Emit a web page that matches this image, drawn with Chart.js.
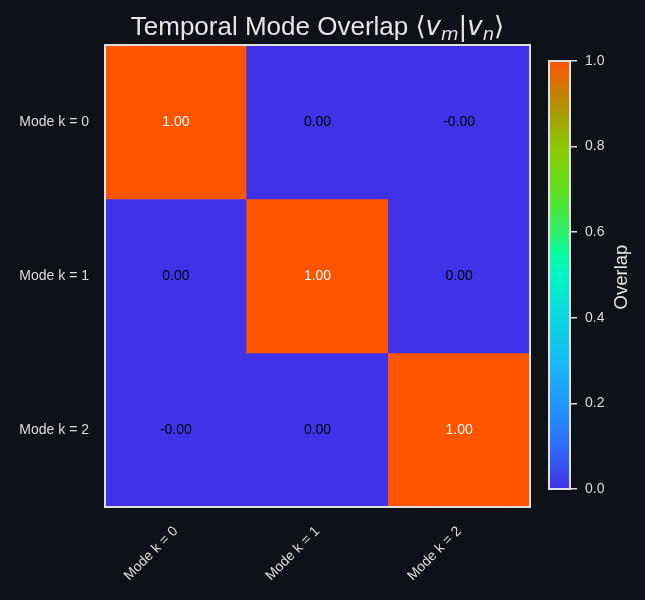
<!DOCTYPE html>
<html>
<head>
<meta charset="utf-8">
<script src="https://cdn.jsdelivr.net/npm/chart.js@4.4.0/dist/chart.umd.min.js"></script>
<style>
  html, body { margin: 0; padding: 0; background: #0e1117; }
  #wrap { position: relative; width: 645px; height: 600px; }
  #heat { position: absolute; left: 0; top: 0; }
  #cbar { position: absolute; left: 530px; top: 0; }
</style>
</head>
<body>
<div id="wrap">
  <canvas id="heat" width="645" height="600"></canvas>
  <canvas id="cbar" width="115" height="600"></canvas>
</div>
<script>
// data
const modeLabels = ['Mode k = 0', 'Mode k = 1', 'Mode k = 2'];
const overlapRow0 = [1.0, 2e-17, -3e-17];
const overlapRow1 = [2e-17, 1.0, 1e-17];
const overlapRow2 = [-3e-17, 1e-17, 1.0];
const overlapRows = [overlapRow0, overlapRow1, overlapRow2];
const cbarTicks = [0, 0.2, 0.4, 0.6, 0.8, 1.0];

// colormap (purple-blue -> cyan -> green -> orange)
const cmapStops  = [0, 0.1, 0.2, 0.3, 0.4, 0.5, 0.55, 0.6, 0.7, 0.8, 0.9, 1.0];
const cmapColors = ['#4032e8', '#2e6cf6', '#1f98ff', '#17bcf4', '#0bd8e0', '#02f4c4',
                    '#08fca2', '#2ef06c', '#62df1e', '#8cc800', '#b38d00', '#ff5500'];

const FONT = '"Liberation Sans", Arial, sans-serif';
const MATH = '"DejaVu Sans", sans-serif';
const TEXT = '#dddddd';

function hexRgb(h) {
  return [parseInt(h.slice(1, 3), 16), parseInt(h.slice(3, 5), 16), parseInt(h.slice(5, 7), 16)];
}
function cmap(v) {
  v = Math.max(0, Math.min(1, v));
  for (let i = 1; i < cmapStops.length; i++) {
    if (v <= cmapStops[i]) {
      const t = (v - cmapStops[i - 1]) / (cmapStops[i] - cmapStops[i - 1]);
      const a = hexRgb(cmapColors[i - 1]), b = hexRgb(cmapColors[i]);
      const c = a.map((x, k) => Math.round(x + (b[k] - x) * t));
      return `rgb(${c[0]},${c[1]},${c[2]})`;
    }
  }
  return cmapColors[cmapColors.length - 1];
}

// one dataset per row, each cell a floating bar [row, row+1]
const heatDatasets = overlapRows.map((row, r) => ({
  data: row.map(() => [r, r + 1]),
  backgroundColor: row.map(v => cmap(v)),
  borderWidth: 0,
  grouped: false,
  barPercentage: 1,
  categoryPercentage: 1
}));

const cellText = {
  id: 'cellText',
  afterDatasetsDraw(chart) {
    const { ctx, scales: { x, y } } = chart;
    ctx.save();
    ctx.font = '14px ' + FONT;
    ctx.textAlign = 'center';
    ctx.textBaseline = 'middle';
    overlapRows.forEach((row, r) => {
      row.forEach((v, c) => {
        ctx.fillStyle = v > 0.5 ? '#ffffff' : '#000000';
        ctx.fillText(v.toFixed(2), x.getPixelForValue(c), y.getPixelForValue(r + 0.5));
      });
    });
    ctx.restore();
  }
};

const frame = {
  id: 'frame',
  afterDraw(chart) {
    const a = chart.chartArea, ctx = chart.ctx;
    ctx.save();
    ctx.strokeStyle = '#e0e0e0';
    ctx.lineWidth = 2;
    ctx.strokeRect(a.left, a.top, a.right - a.left, a.bottom - a.top);
    ctx.restore();
  }
};

// title with math-style parts: [text, font, size, baseline shift]
const mathTitle = {
  id: 'mathTitle',
  afterDraw(chart) {
    const ctx = chart.ctx;
    const parts = [
      ['Temporal Mode Overlap ', FONT, 26, 0],
      ['\u27E8', MATH, 26, 0],
      ['v', 'italic 26px ' + MATH, 0, 0],
      ['m', 'italic 18px ' + MATH, 0, 5],
      ['|', MATH, 26, 0],
      ['v', 'italic 26px ' + MATH, 0, 0],
      ['n', 'italic 18px ' + MATH, 0, 5],
      ['\u27E9', MATH, 26, 0]
    ];
    const fontOf = p => p[2] ? p[2] + 'px ' + p[1] : p[1];
    ctx.save();
    ctx.fillStyle = '#e6e6e6';
    ctx.textBaseline = 'alphabetic';
    ctx.textAlign = 'left';
    let total = 0;
    parts.forEach(p => { ctx.font = fontOf(p); total += ctx.measureText(p[0]).width; });
    const a = chart.chartArea;
    let xPos = (a.left + a.right) / 2 - total / 2;
    parts.forEach(p => {
      ctx.font = fontOf(p);
      ctx.fillText(p[0], xPos, 35 + p[3]);
      xPos += ctx.measureText(p[0]).width;
    });
    ctx.restore();
  }
};

new Chart(document.getElementById('heat'), {
  type: 'bar',
  data: { labels: modeLabels, datasets: heatDatasets },
  options: {
    responsive: false,
    animation: false,
    layout: { padding: { top: 45, right: 115, left: 0, bottom: 0 } },
    plugins: { legend: { display: false }, tooltip: { enabled: false } },
    scales: {
      x: {
        type: 'category',
        offset: true,
        grid: { display: false, drawTicks: false },
        border: { display: false },
        ticks: { color: TEXT, font: { family: FONT, size: 14 }, minRotation: 45, maxRotation: 45, padding: 16 },
        afterFit(s) { s.height = 93; }
      },
      y: {
        type: 'linear',
        min: 0, max: 3,
        reverse: true,
        grid: { display: false, drawTicks: false },
        border: { display: false },
        afterBuildTicks(s) { s.ticks = modeLabels.map((_, i) => ({ value: i + 0.5 })); },
        ticks: {
          color: TEXT, font: { family: FONT, size: 14 }, padding: 16,
          callback: v => modeLabels[Math.floor(v)]
        },
        afterFit(s) { s.width = 105; }
      }
    }
  },
  plugins: [cellText, frame, mathTitle]
});

// colorbar
const cbarTitle = {
  id: 'cbarTitle',
  afterDraw(chart) {
    const ctx = chart.ctx, a = chart.chartArea;
    ctx.save();
    ctx.translate(92, (a.top + a.bottom) / 2 + 2);
    ctx.rotate(-Math.PI / 2);
    ctx.fillStyle = '#e6e6e6';
    ctx.font = '18.5px ' + FONT;
    ctx.textAlign = 'center';
    ctx.textBaseline = 'middle';
    ctx.fillText('Overlap', 0, 0);
    ctx.restore();
  }
};

new Chart(document.getElementById('cbar'), {
  type: 'bar',
  data: {
    labels: [''],
    datasets: [{
      data: [[0, 1]],
      borderWidth: 0,
      barPercentage: 1,
      categoryPercentage: 1,
      backgroundColor(ctx) {
        const chart = ctx.chart;
        if (!chart.chartArea) return cmapColors[0];
        const ys = chart.scales.y;
        const g = chart.ctx.createLinearGradient(0, ys.getPixelForValue(0), 0, ys.getPixelForValue(1));
        cmapStops.forEach((s, i) => g.addColorStop(s, cmapColors[i]));
        return g;
      }
    }]
  },
  options: {
    responsive: false,
    animation: false,
    layout: { padding: { top: 61, left: 19, right: 0, bottom: 111 } },
    plugins: { legend: { display: false }, tooltip: { enabled: false } },
    scales: {
      x: { display: false },
      y: {
        position: 'right',
        min: 0, max: 1,
        afterBuildTicks(s) { s.ticks = cbarTicks.map(v => ({ value: v })); },
        grid: { drawOnChartArea: false, drawTicks: true, tickLength: 7, color: '#dddddd', lineWidth: 1.5 },
        border: { display: false },
        ticks: { color: TEXT, font: { family: FONT, size: 14 }, padding: 8, callback: v => v.toFixed(1) },
        afterFit(s) { s.width = 75; }
      }
    }
  },
  plugins: [frame, cbarTitle]
});
</script>
</body>
</html>
